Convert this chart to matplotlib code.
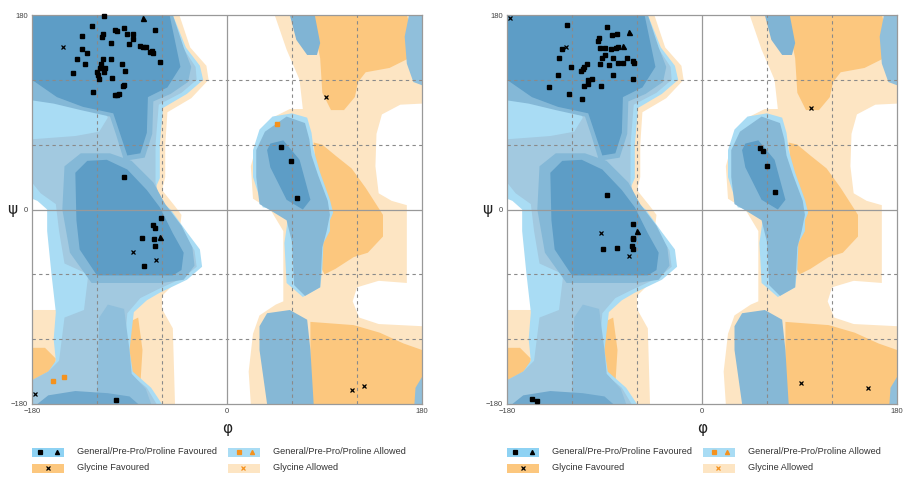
import matplotlib
matplotlib.use("Agg")
import matplotlib.pyplot as plt
from matplotlib.patches import Polygon, Rectangle

plt.rcParams["font.family"] = ["Liberation Sans", "DejaVu Sans"]

# ---- region outlines, (phi, psi) vertices in degrees ----
GLY_ALLOWED_RIGHT = [(44, 180), (180, 180), (180, 98), (160, 97), (143, 88), (138, 70), (137, 40),
                     (140, 15), (152, 8), (166, 4), (166, -68), (140, -66), (120, -72), (116, -85),
                     (122, -100), (140, -106), (180, -108), (180, -180), (22, -180), (20, -150),
                     (24, -115), (30, -98), (45, -88), (52, -85), (52, -20), (40, 0), (24, 10),
                     (22, 40), (28, 62), (42, 85), (58, 93), (70, 93), (67, 120), (55, 148)]
GLY_ALLOWED_LEFT = [(-180, 180), (-44, 180), (-34, 150), (-19, 133), (-17, 120), (-33, 103),
                    (-55, 90), (-57, 60), (-57, 30), (-60, 18), (-48, 3), (-42, -5), (-50, -70),
                    (-60, -80), (-60, -92), (-50, -110), (-48, -180), (-180, -180), (-180, -93),
                    (-152, -93), (-158, -20), (-160, 0), (-175, 15), (-180, 20)]
GLY_FAV_UPPER = [(79, 180), (166, 180), (172, 160), (168, 140), (150, 131), (128, 127), (121, 118),
                 (118, 104), (108, 92), (96, 92), (88, 108), (86, 140), (81, 165)]
GLY_FAV_MID = [(80, 62), (88, 60), (100, 50), (115, 38), (128, 20), (144, -5), (144, -25),
               (130, -40), (117, -44), (100, -55), (90, -60), (85, -50), (85, -10), (90, 20), (82, 40)]
GLY_FAV_LOWER = [(77, -104), (117, -107), (141, -114), (163, -124), (180, -130), (180, -180), (77, -180)]
GLY_FAV_STRIP = [(-92, -105), (-82, -100), (-78, -130), (-80, -162), (-88, -165), (-93, -130)]
GLY_FAV_CORNER = [(-180, -128), (-168, -128), (-158, -138), (-160, -155), (-180, -160)]

GEN_OUTER_LEFT = [(-180, 180), (-50, 180), (-38, 150), (-25, 133), (-22, 120), (-37, 107), (-59, 94),
                  (-62, 60), (-62, 29), (-66, 20), (-58, 5), (-52, 0), (-37, -21), (-25, -37),
                  (-23, -53), (-37, -65), (-62, -77), (-74, -84), (-86, -95), (-90, -130),
                  (-87, -150), (-70, -165), (-60, -180), (-180, -180), (-180, -158), (-165, -150),
                  (-158, -140), (-160, -120), (-158, -95), (-162, -60), (-166, -20), (-166, 0),
                  (-175, 8), (-180, 10)]
GEN_ALLOWED_LEFT = [(-180, 180), (-52, 180), (-41, 150), (-29, 132), (-28, 120), (-42, 108),
                    (-63, 97), (-66, 60), (-66, 25), (-61, 5), (-54, -3), (-40, -22), (-30, -38),
                    (-28, -53), (-40, -63), (-64, -74), (-80, -82), (-92, -96), (-95, -130),
                    (-92, -150), (-74, -165), (-65, -180), (-180, -180), (-180, -158), (-165, -150),
                    (-155, -140), (-150, -100), (-132, -93), (-128, -60), (-150, -50), (-155, -20),
                    (-158, 5), (-172, 15), (-180, 25), (-180, 65), (-140, 68), (-118, 72),
                    (-110, 85), (-118, 100), (-150, 103), (-180, 105)]
GEN_MID_BETA = [(-180, 180), (-50, 180), (-40, 150), (-33, 132), (-36, 118), (-52, 107), (-68, 100),
                (-69, 70), (-76, 48), (-95, 45), (-102, 68), (-108, 86), (-135, 92), (-160, 98),
                (-180, 101)]
GEN_CORE_BETA = [(-180, 180), (-53, 180), (-43, 132), (-55, 113), (-73, 104), (-74, 71), (-80, 52),
                 (-92, 50), (-99, 71), (-105, 89), (-133, 95), (-157, 104), (-180, 120)]
GEN_MID_ALPHA = [(-150, 40), (-135, 52), (-108, 52), (-88, 45), (-68, 25), (-57, 5), (-42, -15),
                 (-32, -35), (-30, -52), (-40, -65), (-60, -68), (-125, -68), (-145, -40), (-152, 0)]
GEN_CORE_ALPHA = [(-140, 34), (-129, 45), (-111, 46), (-92, 37), (-74, 18), (-62, 2), (-50, -22),
                  (-40, -40), (-42, -56), (-50, -61), (-120, -61), (-136, -37), (-139, -10)]
GEN_MID_NECK = [(-120, -180), (-118, -100), (-110, -88), (-95, -92), (-90, -130), (-88, -152),
                (-75, -166), (-70, -180)]
GEN_CORE_BOTTOM = [(-175, -180), (-165, -172), (-140, -168), (-110, -170), (-90, -173), (-82, -180)]

GEN_OUTER_LALPHA = [(60, 89), (74, 85), (78, 71), (80, 55), (86, 34), (95, 9), (98, -3), (95, -10),
                    (95, -20), (89, -31), (88, -55), (86, -72), (70, -81), (55, -68), (53, -31),
                    (56, -10), (46, 0), (33, 2), (24, 30), (24, 55), (30, 74), (42, 86)]
GEN_MID_LALPHA = [(55, 86), (72, 80), (76, 65), (78, 50), (84, 32), (93, 8), (95, -5), (92, -20),
                  (88, -35), (86, -72), (72, -80), (62, -70), (60, -30), (55, -10), (42, -2),
                  (30, 5), (27, 30), (27, 55), (35, 72)]
GEN_CORE_LALPHA = [(40, 61), (52, 64), (67, 46), (77, 9), (70, 0), (55, 9), (40, 39), (37, 55)]
GEN_LOWER_RIGHT = [(37, -96), (58, -93), (74, -102), (77, -130), (80, -180), (37, -180),
                   (30, -130), (30, -108)]
GEN_TOP_RIGHT = [(58, 180), (81, 180), (86, 154), (83, 143), (74, 143), (64, 157)]
GEN_WRAP_TOP = [(180, 180), (168, 180), (164, 160), (166, 135), (172, 118), (180, 115)]
GEN_WRAP_BOTTOM = [(180, -155), (174, -165), (173, -180), (180, -180)]

# ---- residues (phi, psi) ----
A_SQUARES = [(-113.5, 179), (-124.9, 169.8), (-103.3, 166.1), (-101.2, 165.1), (-94.7, 167.6),
             (-134.1, 160.5), (-115.7, 159.9), (-114.7, 162.0), (-92.6, 162.0), (-87.0, 162.0),
             (-86.4, 157.4), (-66.4, 166.1), (-107.0, 154.3), (-90.1, 153.1), (-80.3, 151.6),
             (-77.2, 150.0), (-75.0, 150.0), (-69.5, 146.9), (-71.0, 145.4), (-68.6, 144.5),
             (-134.1, 148.2), (-128.9, 144.5), (-138.7, 138.9), (-114.1, 138.9), (-107.0, 139.2),
             (-131.0, 134.3), (-116.6, 134.3), (-97.2, 134.3), (-117.2, 131.2), (-112.6, 131.2),
             (-142.4, 126.0), (-120.3, 127.5), (-113.5, 126.9), (-94.1, 128.4), (-118.7, 124.4),
             (-117.8, 120.7), (-106.4, 121.4), (-95.0, 115.2), (-95.7, 114.3), (-124.0, 109.0),
             (-103.3, 105.9), (-101.8, 105.9), (-99.7, 106.6), (-61.8, 136.8), (-95.0, 30.4),
             (-60.9, -8.2), (-68.0, -14.3), (-66.1, -17.4), (-78.7, -26.7), (-67.3, -27.3),
             (-66.4, -33.7), (-76.3, -51.9), (-102.4, -176.2), (49.8, 57.5), (58.8, 44.9),
             (64.3, 11.0)]
A_TRIANGLES = [(-77.8, 176.8), (-61.5, -25.1)]
A_CROSSES = [(-151.0, 150.6), (-86.4, -39.6), (-65.5, -46.7), (-177.2, -170.6), (91.4, 104.4),
             (115.1, -166.9), (126.5, -162.9)]
A_ALLOWED = [(-160.3, -158.3), (-150.4, -155.2), (46.5, 78.8)]

B_SQUARES = [(-124.9, 170.7), (-88.0, 168.5), (-83.4, 161.4), (-78.8, 162.0), (-94.8, 158.3),
             (-95.7, 156.2), (-129.5, 148.2), (-131.7, 139.8), (-120.9, 132.1), (-94.2, 149.1),
             (-89.6, 149.1), (-84.0, 148.2), (-79.4, 149.1), (-77.2, 150.0), (-89.6, 142.9),
             (-92.0, 139.8), (-82.5, 139.8), (-69.5, 140.5), (-63.4, 137.7), (-62.8, 135.8),
             (-72.6, 135.2), (-77.9, 135.2), (-85.8, 133.7), (-94.2, 134.6), (-106.5, 134.6),
             (-108.6, 132.1), (-110.2, 129.7), (-111.7, 128.4), (-133.2, 124.4), (-81.9, 124.4),
             (-64.0, 120.7), (-101.9, 120.7), (-105.5, 119.8), (-104.9, 115.8), (-108.9, 114.3),
             (-93.2, 114.3), (-140.9, 113.6), (-122.8, 106.9), (-111.1, 102.2), (-88.0, 13.4),
             (-63.4, -13.4), (-64.0, -26.0), (-63.4, -27.3), (-64.9, -33.7), (-64.0, -36.8),
             (-91.1, -36.5), (-78.8, -35.3), (-157.2, -175.3), (-152.6, -177.1), (53.5, 56.6),
             (55.9, 54.1), (60.3, 40.3), (67.4, 16.5)]
B_TRIANGLES = [(-67.7, 163.9), (-72.6, 151.6), (-60.3, -19.6)]
B_CROSSES = [(-177.2, 176.8), (-125.5, 150.6), (-93.5, -21.4), (-67.7, -43.0), (100.6, 94.2),
             (91.4, -160.2), (153.5, -165.4)]
B_ALLOWED = []

LEGEND_LABELS = ["General/Pre-Pro/Proline Favoured", "General/Pre-Pro/Proline Allowed",
                 "Glycine Favoured", "Glycine Allowed"]
TICKS = [-180, 0, 180]

C_GLY_ALLOWED = "#fde5c3"
C_GLY_FAV = "#fcc77e"
C_SKY = "#a9dcf4"
C_ALLOWED = "#a2c9e0"
C_MID = "#84b8d7"
C_CORE = "#5d9dc6"
C_ORANGE = "#f5921e"

LAYERS = [
    (GLY_ALLOWED_RIGHT, C_GLY_ALLOWED), (GLY_ALLOWED_LEFT, C_GLY_ALLOWED),
    (GLY_FAV_UPPER, C_GLY_FAV), (GLY_FAV_MID, C_GLY_FAV), (GLY_FAV_LOWER, C_GLY_FAV),
    (GLY_FAV_STRIP, C_GLY_FAV), (GLY_FAV_CORNER, C_GLY_FAV),
    (GEN_OUTER_LEFT, C_SKY), (GEN_ALLOWED_LEFT, C_ALLOWED),
    (GEN_MID_BETA, C_MID), (GEN_CORE_BETA, C_CORE),
    (GEN_MID_ALPHA, C_MID), (GEN_CORE_ALPHA, C_CORE),
    (GEN_MID_NECK, "#8fbfdc"), (GEN_CORE_BOTTOM, "#6fa8cd"),
    (GEN_OUTER_LALPHA, C_SKY), (GEN_MID_LALPHA, "#86b8d6"), (GEN_CORE_LALPHA, C_CORE),
    (GEN_LOWER_RIGHT, "#86b8d6"), (GEN_TOP_RIGHT, "#80b4d4"),
    (GEN_WRAP_TOP, "#90bfdb"), (GEN_WRAP_BOTTOM, "#90bfdb"),
]


def scatter(ax, pts, **kw):
    if pts:
        ax.plot([p[0] for p in pts], [p[1] for p in pts], ls="none", zorder=5, clip_on=False, **kw)


def draw_panel(ax, squares, triangles, crosses, allowed):
    for verts, color in LAYERS:
        ax.add_patch(Polygon(verts, closed=True, fc=color, ec="none", zorder=1))
    for v in (-120, -60, 60, 120):
        ax.axvline(v, color="#8a8a8a", lw=0.8, ls=(0, (3, 3)), zorder=3)
        ax.axhline(v, color="#8a8a8a", lw=0.8, ls=(0, (3, 3)), zorder=3)
    ax.axvline(0, color="#999999", lw=0.9, zorder=3)
    ax.axhline(0, color="#999999", lw=0.9, zorder=3)
    scatter(ax, squares, marker="s", ms=3, color="black")
    scatter(ax, triangles, marker="^", ms=3.6, color="black")
    scatter(ax, crosses, marker="x", ms=3.2, mew=0.9, color="black")
    scatter(ax, allowed, marker="s", ms=3.2, color=C_ORANGE)
    ax.set_xlim(-180, 180)
    ax.set_ylim(-180, 180)
    ax.set_xticks(TICKS)
    ax.set_yticks(TICKS)
    ax.tick_params(length=0, labelsize=5.5, labelcolor="#444444", pad=3)
    for s in ax.spines.values():
        s.set_color("#999999")
        s.set_linewidth(0.9)
    ax.text(-0.052, 0.5, "\u03c8", transform=ax.transAxes, ha="center", va="center",
            fontsize=11, family="DejaVu Sans", color="#222222")
    ax.text(0.5, -0.062, "\u03c6", transform=ax.transAxes, ha="center", va="center",
            fontsize=11, family="DejaVu Sans", color="#222222")


def draw_legend(lax):
    lax.set_xlim(0, 390)
    lax.set_ylim(0, 38)
    lax.axis("off")
    rows = [26, 10]
    items = [
        (0, rows[0], "#8ed2f3", LEGEND_LABELS[0], [("s", 8, "black"), ("^", 25, "black")]),
        (196, rows[0], C_SKY, LEGEND_LABELS[1], [("s", 207, C_ORANGE), ("^", 220, C_ORANGE)]),
        (0, rows[1], C_GLY_FAV, LEGEND_LABELS[2], [("x", 16, "black")]),
        (196, rows[1], C_GLY_ALLOWED, LEGEND_LABELS[3], [("x", 211, C_ORANGE)]),
    ]
    for x0, y0, color, label, marks in items:
        lax.add_patch(Rectangle((x0, y0 - 4.5), 32, 9, fc=color, ec="none"))
        for m, mx, mc in marks:
            lax.plot([mx], [y0], marker=m, ms=3 if m != "x" else 3.2, mew=0.9, color=mc, ls="none")
        lax.text(x0 + 45, y0, label, fontsize=6.6, color="#333333", va="center", ha="left")


fig = plt.figure(figsize=(9.12, 4.8), dpi=100)
W, H = 912.0, 480.0
panels = [(32, A_SQUARES, A_TRIANGLES, A_CROSSES, A_ALLOWED),
          (507, B_SQUARES, B_TRIANGLES, B_CROSSES, B_ALLOWED)]
for left, sq, tri, cr, al in panels:
    ax = fig.add_axes([left / W, (H - 404) / H, 390 / W, 389 / H])
    draw_panel(ax, sq, tri, cr, al)
    lax = fig.add_axes([left / W, (H - 478) / H, 390 / W, 38 / H])
    draw_legend(lax)

fig.savefig("out.png", dpi=100)
